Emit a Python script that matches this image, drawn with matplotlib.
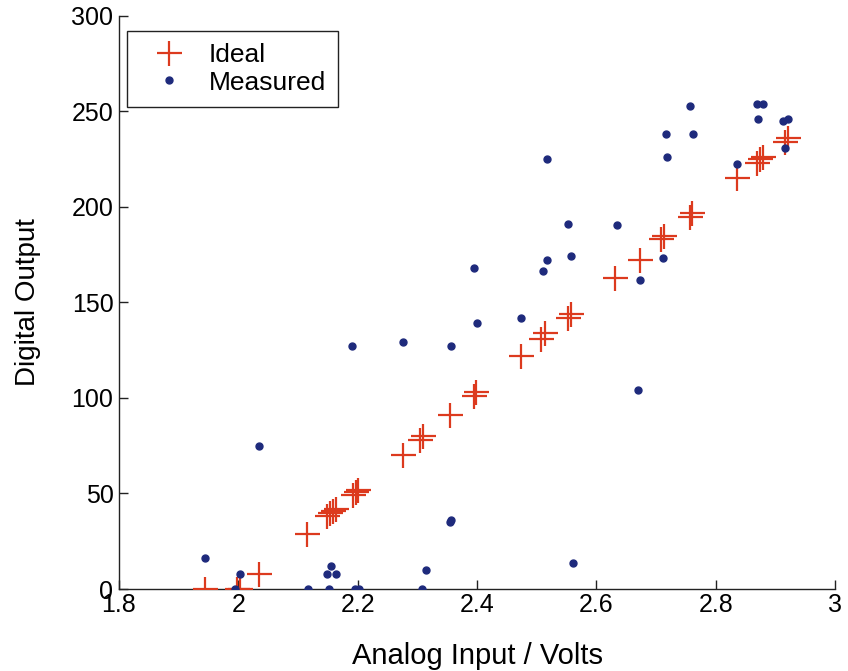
"""
ADC transfer curve: ideal vs measured digital output
"""

import matplotlib
matplotlib.use('Agg')
import matplotlib.pyplot as plt

plt.rcParams['font.family'] = ['Liberation Sans', 'DejaVu Sans']

# ideal output codes (red crosses)
ideal_x = [1.945, 1.997, 2.003, 2.035, 2.115, 2.148, 2.154, 2.159, 2.163,
           2.193, 2.197, 2.201, 2.276, 2.305, 2.310, 2.354, 2.395, 2.399,
           2.474, 2.508, 2.514, 2.552, 2.557, 2.632, 2.673, 2.708, 2.714,
           2.757, 2.761, 2.835, 2.869, 2.874, 2.879, 2.916, 2.921]
ideal_y = [0, 0, 0, 8, 29, 38, 40, 41, 42,
           49, 51, 52, 70, 78, 80, 91, 101, 103,
           122, 131, 134, 142, 144, 163, 172, 183, 185,
           195, 197, 215, 223, 225, 226, 234, 236]

# measured output codes (blue dots)
meas_x = [1.945, 1.994, 2.003, 2.035, 2.116, 2.149, 2.152, 2.156, 2.163,
          2.191, 2.196, 2.203, 2.276, 2.307, 2.314, 2.355, 2.357, 2.357,
          2.395, 2.400, 2.474, 2.511, 2.518, 2.518, 2.552, 2.558, 2.561,
          2.634, 2.670, 2.673, 2.712, 2.716, 2.719, 2.757, 2.762, 2.836,
          2.869, 2.871, 2.879, 2.913, 2.917, 2.921]
meas_y = [16, 0, 8, 75, 0, 8, 0, 12, 8,
          127, 0, 0, 129.5, 0, 10, 35, 36, 127,
          168, 139, 142, 166.5, 172.4, 225, 191, 174.5, 13.8,
          190.4, 104, 161.8, 173.5, 238, 226, 253, 238, 222.3,
          254, 246, 254, 245, 231, 246]

x_ticks = [1.8, 2, 2.2, 2.4, 2.6, 2.8, 3]
x_labels = ['1.8', '2', '2.2', '2.4', '2.6', '2.8', '3']
y_ticks = [0, 50, 100, 150, 200, 250, 300]

fig = plt.figure(figsize=(8.48, 6.71), dpi=100)
ax = fig.add_axes([0.1403, 0.1222, 0.8444, 0.854])

ax.plot(ideal_x, ideal_y, '+', color='#dc3a1e', ms=18, mew=1.6, ls='none',
        label='Ideal', zorder=3)
ax.plot(meas_x, meas_y, 'o', color='#1e2a7c', ms=5, ls='none',
        label='Measured', zorder=4)

ax.set_xlim(1.8, 3)
ax.set_ylim(0, 300)
ax.set_xticks(x_ticks)
ax.set_xticklabels(x_labels)
ax.set_yticks(y_ticks)

for s in ['top', 'right']:
    ax.spines[s].set_visible(False)
for s in ['left', 'bottom']:
    ax.spines[s].set_linewidth(1.0)
    ax.spines[s].set_color('#222222')

ax.tick_params(direction='in', length=6.5, width=1.0, labelsize=18,
               color='#222222')
ax.tick_params(axis='x', pad=3)
ax.tick_params(axis='y', pad=4)

ax.set_xlabel('Analog Input / Volts', fontsize=21, labelpad=18)
ax.set_ylabel('Digital Output', fontsize=20, labelpad=22)

leg = ax.legend(loc='upper left', bbox_to_anchor=(0.011, 0.974),
                borderaxespad=0, fontsize=19, fancybox=False,
                edgecolor='#222222', framealpha=1, handletextpad=0.36,
                borderpad=0.45, labelspacing=0.15, handlelength=2.3)
leg.get_frame().set_linewidth(1.0)

fig.savefig('out.png', dpi=100)
